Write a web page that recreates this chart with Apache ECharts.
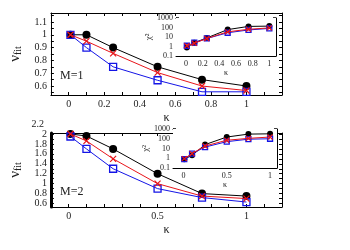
<!DOCTYPE html>
<html><head><meta charset="utf-8">
<script src="https://cdn.jsdelivr.net/npm/echarts@6/dist/echarts.min.js"></script>
<style>html,body{margin:0;padding:0;background:#fff}#c{width:350px;height:250px}</style>
</head><body><div id="c"></div>
<script>
var kappa = [0.01, 0.1, 0.25, 0.5, 0.75, 1];
var m1Black = [1.0, 1.0, 0.9, 0.75, 0.65, 0.6];
var m1Red = [1.0, 0.95, 0.855, 0.705, 0.6, 0.565];
var m1Blue = [1.0, 0.9, 0.75, 0.645, 0.555, 0.555];
var m1ChiBlack = [0.8, 2.5, 8, 60, 130, 140];
var m1ChiRed = [1.2, 2.2, 7, 35, 65, 90];
var m1ChiBlue = [1.2, 2.5, 7, 28, 55, 80];
var m2Black = [2.0, 1.96, 1.7, 1.2, 0.8, 0.75];
var m2Red = [2.0, 1.86, 1.5, 1.0, 0.75, 0.7];
var m2Blue = [1.95, 1.7, 1.3, 0.9, 0.72, 0.63];
var m2ChiBlack = [0.8, 2, 25, 150, 300, 320];
var m2ChiRed = [0.9, 3, 18, 70, 110, 150];
var m2ChiBlue = [0.8, 3, 14, 50, 90, 100];
var mainXTicksTop = [0, 0.2, 0.4, 0.6, 0.8, 1];
var mainXTicksBottom = [0, 0.5, 1];
var insetXTicksTop = [0, 0.2, 0.4, 0.6, 0.8, 1];
var insetXTicksBottom = [0, 0.5, 1];
var yTicksTop = [0.6, 0.7, 0.8, 0.9, 1, 1.1];
var yTicksBottom = [0.6, 0.8, 1, 1.2, 1.4, 1.6, 1.8, 2];

var FONT = 'Liberation Serif';
function pairs(xs, ys){ return xs.map(function(x,i){ return [x, ys[i]]; }); }
function steps(a, b, s){ var r=[]; for (var v=a; v<=b+1e-9; v+=s) r.push(Math.round(v*1000)/1000); return r; }

var line = {lineStyle:{color:'#000', width:1}};
function xAx(grid, min, max, labels, tickVals, fs, pos, show){
  return {type:'value', gridIndex:grid, min:min, max:max, position:pos,
    axisLine:{show:true, onZero:false, lineStyle:{color:'#000', width:1}},
    axisTick:{show:true, inside:true, length:3, customValues:tickVals, lineStyle:{color:'#000'}},
    axisLabel:{show:show, customValues:labels, fontFamily:FONT, fontSize:fs, color:'#222', margin:4},
    splitLine:{show:false}};
}
function yAx(grid, min, max, labels, tickVals, fs, pos, show, lw){
  return {type:'value', gridIndex:grid, min:min, max:max, position:pos,
    axisLine:{show:true, onZero:false, lineStyle:{color:'#000', width:lw||1}},
    axisTick:{show:true, inside:true, length:3, customValues:tickVals, lineStyle:{color:'#000'}},
    axisLabel:{show:show, customValues:labels, fontFamily:FONT, fontSize:fs, color:'#222', margin:4},
    splitLine:{show:false}};
}
function logAx(grid, pos, show){
  return {type:'log', gridIndex:grid, min:0.1, max:1000, logBase:10, position:pos,
    axisLine:{show:true, onZero:false, lineStyle:{color:'#000', width:1}},
    axisTick:{show:true, inside:true, length:3, lineStyle:{color:'#000', width:1.5}},
    axisLabel:{show:show, fontFamily:FONT, fontSize:8, color:'#222', margin:3,
      formatter:function(v){ return String(+(+v).toPrecision(3)); }},
    splitLine:{show:false}};
}

var xs = [
  xAx(0, -0.1, 1.2, mainXTicksTop, steps(0, 1.1, 0.1), 10, 'bottom', true),
  xAx(0, -0.1, 1.2, [], steps(0, 1.1, 0.1), 10, 'top', false),
  xAx(1, -0.12, 1.08, insetXTicksTop, steps(0, 1, 0.1), 8, 'bottom', true),
  xAx(1, -0.12, 1.08, [], steps(0, 1, 0.1), 8, 'top', false),
  xAx(2, -0.1, 1.2, mainXTicksBottom, steps(0, 1.1, 0.1), 10, 'bottom', true),
  xAx(2, -0.1, 1.2, [], steps(0, 1.1, 0.1), 10, 'top', false),
  xAx(3, -0.12, 1.08, insetXTicksBottom, steps(0, 1, 0.1), 8, 'bottom', true),
  xAx(3, -0.12, 1.08, [], steps(0, 1, 0.1), 8, 'top', false)
];
xs[0].name = 'κ'; xs[0].nameLocation='middle'; xs[0].nameGap=17; xs[0].nameTextStyle={fontFamily:FONT, fontSize:12, color:'#222'};
xs[2].name = 'κ'; xs[2].nameLocation='middle'; xs[2].nameGap=12; xs[2].nameTextStyle={fontFamily:FONT, fontSize:8, color:'#222'};
xs[4].name = 'κ'; xs[4].nameLocation='middle'; xs[4].nameGap=17; xs[4].nameTextStyle={fontFamily:FONT, fontSize:12, color:'#222'};
xs[6].name = 'κ'; xs[6].nameLocation='middle'; xs[6].nameGap=12; xs[6].nameTextStyle={fontFamily:FONT, fontSize:8, color:'#222'};

var ys = [
  yAx(0, 0.53, 1.17, yTicksTop, steps(0.55, 1.15, 0.05), 10, 'left', true),
  yAx(0, 0.53, 1.17, [], steps(0.55, 1.15, 0.05), 10, 'right', false),
  logAx(1, 'left', true),
  logAx(1, 'right', false),
  yAx(2, 0.53, 2.02, yTicksBottom, steps(0.6, 2.0, 0.1), 10, 'left', true, 3),
  yAx(2, 0.53, 2.02, [], steps(0.6, 2.0, 0.1), 10, 'right', false, 1),
  logAx(3, 'left', true),
  logAx(3, 'right', false)
];
var nuName = {name:'{a|ν}{b|fit}', nameLocation:'middle', nameRotate:90, nameGap:24,
  nameTextStyle:{rich:{a:{fontFamily:FONT, fontSize:15, color:'#222'}, b:{fontFamily:FONT, fontSize:10, color:'#222', padding:[6,0,0,0]}}}};
Object.assign(ys[0], nuName);
Object.assign(ys[4], JSON.parse(JSON.stringify(nuName)));
var chiName = {name:'χ²', nameLocation:'middle', nameRotate:90, nameGap:20,
  nameTextStyle:{fontFamily:FONT, fontSize:9, color:'#222'}};
Object.assign(ys[2], chiName);
Object.assign(ys[6], JSON.parse(JSON.stringify(chiName)));

var XPATH = 'path://M0,0L10,10M10,0L0,10';
function blk(x, y, d, sz){ return {type:'line', xAxisIndex:x, yAxisIndex:y, data:d, symbol:'circle', symbolSize:sz,
  itemStyle:{color:'#000'}, lineStyle:{color:'#000', width:1}, z:3, animation:false}; }
function blu(x, y, d, sz){ return {type:'line', xAxisIndex:x, yAxisIndex:y, data:d, symbol:'rect', symbolSize:sz,
  itemStyle:{color:'rgba(255,255,255,0)', borderColor:'#1414e6', borderWidth:1.3}, lineStyle:{color:'#1414e6', width:1}, z:4, animation:false}; }
function red(x, y, d, sz){ return {type:'line', xAxisIndex:x, yAxisIndex:y, data:d, symbol:XPATH, symbolSize:sz,
  itemStyle:{color:'rgba(0,0,0,0)', borderColor:'#e8141a', borderWidth:1.2}, lineStyle:{color:'#e8141a', width:1}, z:5, animation:false}; }

var series = [
  blk(0,0,pairs(kappa,m1Black),8), blu(0,0,pairs(kappa,m1Blue),7), red(0,0,pairs(kappa,m1Red),6),
  blk(2,2,pairs(kappa,m1ChiBlack),6), blu(2,2,pairs(kappa,m1ChiBlue),5), red(2,2,pairs(kappa,m1ChiRed),5),
  blk(4,4,pairs(kappa,m2Black),8), blu(4,4,pairs(kappa,m2Blue),7), red(4,4,pairs(kappa,m2Red),6),
  blk(6,6,pairs(kappa,m2ChiBlack),6), blu(6,6,pairs(kappa,m2ChiBlue),5), red(6,6,pairs(kappa,m2ChiRed),5)
];

var chart = echarts.init(document.getElementById('c'), null, {renderer:'canvas'});
chart.setOption({
  animation:false,
  backgroundColor:'#fff',
  grid:[
    {left:48, top:13, width:234, height:82},
    {left:176, top:18, width:100, height:38, show:true, backgroundColor:'#fff', borderWidth:0, z:1},
    {left:48, top:133, width:234, height:74},
    {left:173, top:129, width:104, height:39, show:true, backgroundColor:'#fff', borderWidth:0, z:1}
  ],
  xAxis: xs, yAxis: ys, series: series,
  graphic:[
    {type:'text', left:60, top:70, style:{text:'M=1', fontFamily:FONT, fontSize:12, fill:'#222'}},
    {type:'text', left:60, top:186, style:{text:'M=2', fontFamily:FONT, fontSize:12, fill:'#222'}},
    {type:'text', right:306, top:119, style:{text:'2.2', fontFamily:FONT, fontSize:10, fill:'#222', align:'right'}}
  ]
});
</script></body></html>
